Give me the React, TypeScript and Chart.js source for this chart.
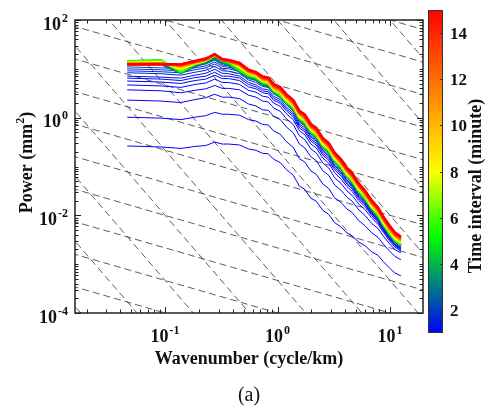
import React, { useEffect, useRef } from "react";
import { Chart, registerables } from "chart.js";

Chart.register(...registerables);

// ---------------- data ----------------
// wavenumber (cycle/km)
const WAVENUMBER = [
  0.046, 0.092, 0.138, 0.184, 0.23, 0.276, 0.322, 0.368, 0.46, 0.552, 0.644, 0.736, 0.828, 0.92,
  1.058, 1.196, 1.38, 1.564, 1.748, 1.978, 2.208, 2.53, 2.852, 3.22, 3.68, 4.14, 4.6, 5.29, 5.98,
  6.9, 7.82, 8.74, 9.89, 11.04, 12.5,
];

// log10 of power (mm^2) for each time interval (minutes)
const LOGP_15 = [1.10, 1.10, 1.09, 1.16, 1.21, 1.30, 1.20, 1.18, 1.12, 0.98, 0.93, 0.84, 0.82, 0.69, 0.62, 0.48, 0.36, 0.14, 0.06, -0.13, -0.21, -0.42, -0.52, -0.72, -0.86, -1.03, -1.14, -1.35, -1.49, -1.70, -1.84, -2.03, -2.21, -2.35, -2.44];
const LOGP_14 = [1.09, 1.09, 1.09, 1.15, 1.20, 1.30, 1.19, 1.17, 1.11, 0.97, 0.92, 0.83, 0.81, 0.67, 0.60, 0.46, 0.34, 0.12, 0.04, -0.15, -0.23, -0.44, -0.54, -0.74, -0.88, -1.05, -1.16, -1.37, -1.51, -1.72, -1.86, -2.05, -2.23, -2.37, -2.46];
const LOGP_13 = [1.09, 1.10, 1.08, 1.14, 1.19, 1.29, 1.18, 1.16, 1.10, 0.96, 0.91, 0.81, 0.79, 0.65, 0.59, 0.43, 0.33, 0.09, 0.03, -0.18, -0.24, -0.47, -0.55, -0.77, -0.89, -1.08, -1.17, -1.40, -1.52, -1.75, -1.87, -2.08, -2.24, -2.40, -2.48];
const LOGP_12 = [1.10, 1.11, 1.06, 1.13, 1.19, 1.29, 1.18, 1.15, 1.08, 0.94, 0.89, 0.79, 0.77, 0.63, 0.55, 0.43, 0.29, 0.09, -0.01, -0.18, -0.28, -0.47, -0.59, -0.77, -0.93, -1.08, -1.21, -1.40, -1.56, -1.75, -1.91, -2.08, -2.28, -2.40, -2.50];
const LOGP_10 = [1.11, 1.12, 1.03, 1.12, 1.18, 1.29, 1.18, 1.15, 1.06, 0.92, 0.87, 0.77, 0.74, 0.60, 0.52, 0.40, 0.26, 0.06, -0.04, -0.21, -0.31, -0.50, -0.62, -0.80, -0.96, -1.11, -1.24, -1.43, -1.59, -1.78, -1.94, -2.11, -2.31, -2.43, -2.53];
const LOGP_8 = [1.13, 1.14, 0.99, 1.11, 1.17, 1.28, 1.20, 1.16, 1.03, 0.90, 0.85, 0.75, 0.72, 0.58, 0.51, 0.35, 0.25, 0.01, -0.05, -0.26, -0.32, -0.55, -0.63, -0.85, -0.97, -1.16, -1.25, -1.48, -1.60, -1.83, -1.95, -2.16, -2.32, -2.48, -2.56];
const LOGP_6 = [1.15, 1.17, 0.95, 1.10, 1.16, 1.28, 1.19, 1.14, 0.99, 0.87, 0.83, 0.73, 0.70, 0.56, 0.46, 0.34, 0.20, 0.00, -0.10, -0.27, -0.37, -0.56, -0.68, -0.86, -1.02, -1.17, -1.30, -1.49, -1.65, -1.84, -2.00, -2.17, -2.37, -2.49, -2.59];
const LOGP_5 = [1.16, 1.18, 0.93, 1.09, 1.16, 1.27, 1.17, 1.12, 0.97, 0.85, 0.82, 0.72, 0.69, 0.55, 0.47, 0.31, 0.21, -0.03, -0.09, -0.30, -0.36, -0.59, -0.67, -0.89, -1.01, -1.20, -1.29, -1.52, -1.64, -1.87, -1.99, -2.20, -2.36, -2.52, -2.60];
const LOGP_4 = [1.15, 1.16, 0.92, 1.08, 1.15, 1.25, 1.15, 1.10, 0.96, 0.84, 0.80, 0.70, 0.67, 0.53, 0.44, 0.32, 0.18, -0.02, -0.12, -0.29, -0.39, -0.58, -0.70, -0.88, -1.04, -1.19, -1.32, -1.51, -1.67, -1.86, -2.02, -2.19, -2.39, -2.51, -2.61];
const LOGP_3 = [1.11, 1.12, 0.91, 1.06, 1.13, 1.23, 1.13, 1.08, 0.95, 0.82, 0.78, 0.68, 0.65, 0.52, 0.45, 0.29, 0.19, -0.05, -0.11, -0.32, -0.38, -0.61, -0.69, -0.91, -1.03, -1.22, -1.31, -1.54, -1.66, -1.89, -2.01, -2.22, -2.38, -2.54, -2.62];
const LOGP_2_5 = [1.08, 1.09, 0.91, 1.05, 1.12, 1.21, 1.12, 1.07, 0.94, 0.81, 0.77, 0.67, 0.64, 0.51, 0.42, 0.30, 0.16, -0.04, -0.14, -0.31, -0.41, -0.60, -0.72, -0.90, -1.06, -1.21, -1.34, -1.53, -1.69, -1.88, -2.04, -2.21, -2.41, -2.53, -2.63];
const LOGP_2_0 = [1.04, 1.02, 1.00, 1.06, 1.10, 1.18, 1.08, 1.06, 1.00, 0.86, 0.81, 0.72, 0.70, 0.57, 0.50, 0.35, 0.23, 0.00, -0.08, -0.28, -0.36, -0.57, -0.68, -0.88, -1.02, -1.19, -1.30, -1.51, -1.65, -1.86, -2.00, -2.19, -2.37, -2.51, -2.60];
const LOGP_1_83 = [1.00, 0.98, 0.96, 1.02, 1.06, 1.14, 1.05, 1.03, 0.98, 0.84, 0.79, 0.70, 0.68, 0.55, 0.48, 0.33, 0.21, -0.02, -0.10, -0.30, -0.38, -0.59, -0.70, -0.90, -1.04, -1.21, -1.32, -1.53, -1.67, -1.88, -2.02, -2.21, -2.39, -2.53, -2.62];
const LOGP_1_67 = [0.96, 0.94, 0.92, 0.98, 1.02, 1.10, 1.01, 1.00, 0.95, 0.81, 0.77, 0.68, 0.66, 0.53, 0.46, 0.31, 0.19, -0.04, -0.12, -0.32, -0.40, -0.61, -0.72, -0.92, -1.06, -1.23, -1.34, -1.55, -1.69, -1.90, -2.04, -2.23, -2.41, -2.55, -2.64];
const LOGP_1_5 = [0.92, 0.90, 0.87, 0.93, 0.97, 1.05, 0.96, 0.95, 0.90, 0.77, 0.72, 0.64, 0.62, 0.49, 0.42, 0.27, 0.14, -0.09, -0.17, -0.37, -0.45, -0.66, -0.77, -0.97, -1.11, -1.27, -1.38, -1.59, -1.72, -1.93, -2.07, -2.26, -2.44, -2.58, -2.67];
const LOGP_1_33 = [0.85, 0.83, 0.81, 0.87, 0.91, 0.99, 0.91, 0.90, 0.85, 0.72, 0.67, 0.59, 0.57, 0.44, 0.37, 0.22, 0.10, -0.13, -0.21, -0.40, -0.48, -0.69, -0.79, -0.99, -1.13, -1.29, -1.40, -1.61, -1.74, -1.95, -2.08, -2.27, -2.45, -2.58, -2.67];
const LOGP_1_17 = [0.81, 0.79, 0.76, 0.82, 0.85, 0.93, 0.85, 0.85, 0.81, 0.68, 0.63, 0.55, 0.53, 0.40, 0.33, 0.18, 0.06, -0.17, -0.25, -0.44, -0.52, -0.73, -0.83, -1.03, -1.16, -1.33, -1.43, -1.63, -1.76, -1.97, -2.10, -2.29, -2.46, -2.60, -2.69];
const LOGP_1_0 = [0.75, 0.73, 0.70, 0.76, 0.79, 0.87, 0.80, 0.80, 0.76, 0.63, 0.59, 0.51, 0.49, 0.36, 0.29, 0.14, 0.02, -0.21, -0.29, -0.48, -0.56, -0.77, -0.87, -1.07, -1.20, -1.36, -1.46, -1.66, -1.78, -1.98, -2.11, -2.29, -2.47, -2.60, -2.69];
const LOGP_0_83 = [0.67, 0.65, 0.62, 0.68, 0.71, 0.79, 0.72, 0.72, 0.68, 0.56, 0.52, 0.44, 0.42, 0.30, 0.23, 0.08, -0.04, -0.27, -0.35, -0.54, -0.62, -0.83, -0.93, -1.13, -1.26, -1.41, -1.51, -1.70, -1.82, -2.01, -2.14, -2.32, -2.49, -2.62, -2.71];
const LOGP_0_67 = [0.57, 0.55, 0.51, 0.56, 0.59, 0.66, 0.60, 0.60, 0.57, 0.46, 0.42, 0.34, 0.32, 0.20, 0.13, -0.02, -0.14, -0.37, -0.45, -0.64, -0.72, -0.93, -1.03, -1.23, -1.35, -1.50, -1.59, -1.77, -1.88, -2.06, -2.18, -2.35, -2.52, -2.65, -2.73];
const LOGP_0_5 = [0.36, 0.34, 0.31, 0.37, 0.41, 0.48, 0.42, 0.42, 0.39, 0.28, 0.24, 0.16, 0.15, 0.03, -0.04, -0.19, -0.31, -0.54, -0.62, -0.80, -0.88, -1.09, -1.18, -1.38, -1.49, -1.63, -1.71, -1.89, -2.00, -2.17, -2.27, -2.43, -2.58, -2.70, -2.77];
const LOGP_0_33 = [0.01, -0.01, -0.04, 0.01, 0.04, 0.11, 0.07, 0.07, 0.05, -0.04, -0.07, -0.14, -0.15, -0.27, -0.34, -0.49, -0.61, -0.84, -0.91, -1.09, -1.16, -1.36, -1.45, -1.64, -1.74, -1.87, -1.94, -2.11, -2.21, -2.36, -2.45, -2.59, -2.73, -2.84, -2.91];
const LOGP_0_17 = [-0.58, -0.60, -0.63, -0.59, -0.57, -0.50, -0.54, -0.54, -0.56, -0.64, -0.67, -0.73, -0.74, -0.85, -0.92, -1.06, -1.18, -1.40, -1.47, -1.65, -1.71, -1.90, -1.98, -2.15, -2.24, -2.36, -2.42, -2.55, -2.62, -2.75, -2.82, -2.95, -3.08, -3.18, -3.24];

// time interval (minute) of each series, top-drawn first
const TIME_INTERVALS = [15, 14, 13, 12, 10, 8, 6, 5, 4, 3, 2.5, 2, 1.83, 1.67, 1.5, 1.33, 1.17, 1, 0.83, 0.67, 0.5, 0.33, 0.17];
const SERIES_LOGP = [
  LOGP_15, LOGP_14, LOGP_13, LOGP_12, LOGP_10, LOGP_8, LOGP_6, LOGP_5, LOGP_4, LOGP_3, LOGP_2_5,
  LOGP_2_0, LOGP_1_83, LOGP_1_67, LOGP_1_5, LOGP_1_33, LOGP_1_17, LOGP_1_0, LOGP_0_83, LOGP_0_67,
  LOGP_0_5, LOGP_0_33, LOGP_0_17,
];

// dashed reference power laws: log10(P) = intercept + slope * log10(k)
const SHALLOW_SLOPE = -0.6667;
const SHALLOW_INTERCEPTS = [2.667, 2, 1.333, 0.667, 0, -0.667, -1.333, -2, -2.667, -3.333, -4, -4.667];
const STEEP_SLOPE = -2.6667;
const STEEP_INTERCEPTS = [6, 4.667, 3.333, 2, 0.667, -0.667, -2, -3.333, -4.667, -6, -7.333, -8.667];
const REF_K = [0.005, 60];

// axes
const X_MIN = 0.0158;
const X_MAX = 19.65;
const Y_MIN = 1e-4;
const Y_MAX = 100;
const X_TICKS = [0.1, 1, 10];
const X_TICK_EXP = ["-1", "0", "1"];
const Y_TICKS = [100, 1, 0.01, 0.0001];
const Y_TICK_EXP = ["2", "0", "-2", "-4"];
const CB_MIN = 1;
const CB_MAX = 15;
const CB_TICKS = [2, 4, 6, 8, 10, 12, 14];

// colormap (value -> rgb)
const CMAP_VALUES = [1, 5.2, 8, 15];
const CMAP_COLORS = [
  [0, 0, 255],
  [0, 255, 0],
  [255, 255, 0],
  [255, 0, 0],
];

function cmap(v: number): string {
  const t = Math.min(CB_MAX, Math.max(CB_MIN, v));
  for (let i = 0; i < CMAP_VALUES.length - 1; i++) {
    if (t <= CMAP_VALUES[i + 1]) {
      const f = (t - CMAP_VALUES[i]) / (CMAP_VALUES[i + 1] - CMAP_VALUES[i]);
      const a = CMAP_COLORS[i];
      const b = CMAP_COLORS[i + 1];
      const c = a.map((x, j) => Math.round(x + (b[j] - x) * f));
      return `rgb(${c[0]},${c[1]},${c[2]})`;
    }
  }
  return "rgb(255,0,0)";
}

const FONT = '"Liberation Serif", "Times New Roman", serif';

function drawPow(ctx: CanvasRenderingContext2D, exp: string, x: number, baseline: number, align: "right" | "center") {
  ctx.font = `bold 18px ${FONT}`;
  const wb = ctx.measureText("10").width;
  ctx.font = `bold 12px ${FONT}`;
  const we = ctx.measureText(exp).width;
  const total = wb + we + 1;
  const left = align === "right" ? x - total : x - total / 2;
  ctx.textAlign = "left";
  ctx.textBaseline = "alphabetic";
  ctx.font = `bold 18px ${FONT}`;
  ctx.fillText("10", left, baseline);
  ctx.font = `bold 12px ${FONT}`;
  ctx.fillText(exp, left + wb + 1, baseline - 8);
}

const decorPlugin = {
  id: "decor",
  afterDraw(chart: any) {
    const { ctx, chartArea: a, scales } = chart;
    const xs = scales.x;
    const ys = scales.y;
    ctx.save();
    // ticks
    ctx.strokeStyle = "#222";
    ctx.lineWidth = 1;
    ctx.beginPath();
    for (let d = -2; d <= 1; d++) {
      for (let m = 1; m <= 9; m++) {
        const v = m * Math.pow(10, d);
        if (v < X_MIN || v > X_MAX) continue;
        const px = Math.round(xs.getPixelForValue(v)) + 0.5;
        const len = m === 1 ? 6 : 3.5;
        ctx.moveTo(px, a.bottom);
        ctx.lineTo(px, a.bottom - len);
        ctx.moveTo(px, a.top);
        ctx.lineTo(px, a.top + len);
      }
    }
    for (let d = -4; d <= 2; d++) {
      for (let m = 1; m <= 9; m++) {
        const v = m * Math.pow(10, d);
        if (v < Y_MIN * 0.999 || v > Y_MAX * 1.001) continue;
        const py = Math.round(ys.getPixelForValue(v)) + 0.5;
        const len = m === 1 && d % 2 === 0 ? 6 : 3.5;
        ctx.moveTo(a.left, py);
        ctx.lineTo(a.left + len, py);
        ctx.moveTo(a.right, py);
        ctx.lineTo(a.right - len, py);
      }
    }
    ctx.stroke();
    // frame
    ctx.lineWidth = 1.5;
    ctx.strokeStyle = "#222";
    ctx.strokeRect(a.left, a.top, a.right - a.left, a.bottom - a.top);

    // tick labels
    ctx.fillStyle = "#111";
    X_TICKS.forEach((v, i) => drawPow(ctx, X_TICK_EXP[i], xs.getPixelForValue(v), a.bottom + 29, "center"));
    Y_TICKS.forEach((v, i) => drawPow(ctx, Y_TICK_EXP[i], a.left - 7, ys.getPixelForValue(v) + 9.5, "right"));

    // x title
    ctx.font = `bold 18px ${FONT}`;
    ctx.textAlign = "center";
    ctx.textBaseline = "alphabetic";
    ctx.fillText("Wavenumber (cycle/km)", (a.left + a.right) / 2, a.bottom + 51);

    // y title with superscript
    ctx.save();
    ctx.translate(32, (a.top + a.bottom) / 2 - 4);
    ctx.rotate(-Math.PI / 2);
    ctx.font = `bold 18px ${FONT}`;
    const w1 = ctx.measureText("Power (mm").width;
    const w3 = ctx.measureText(")").width;
    ctx.font = `bold 12px ${FONT}`;
    const w2 = ctx.measureText("2").width;
    const start = -(w1 + w2 + w3) / 2;
    ctx.textAlign = "left";
    ctx.font = `bold 18px ${FONT}`;
    ctx.fillText("Power (mm", start, 0);
    ctx.font = `bold 12px ${FONT}`;
    ctx.fillText("2", start + w1, -8);
    ctx.font = `bold 18px ${FONT}`;
    ctx.fillText(")", start + w1 + w2, 0);
    ctx.restore();

    // caption
    ctx.font = `20px ${FONT}`;
    ctx.textAlign = "center";
    ctx.fillText("(a)", (a.left + a.right) / 2, 401);

    // colorbar
    const cbL = a.right + 5;
    const cbR = a.right + 20;
    const cbT = a.top - 10;
    const cbB = a.bottom + 20;
    const grad = ctx.createLinearGradient(0, cbB, 0, cbT);
    CMAP_VALUES.forEach((v, i) => {
      const c = CMAP_COLORS[i];
      grad.addColorStop((v - CB_MIN) / (CB_MAX - CB_MIN), `rgb(${c[0]},${c[1]},${c[2]})`);
    });
    ctx.fillStyle = grad;
    ctx.fillRect(cbL, cbT, cbR - cbL, cbB - cbT);
    ctx.strokeStyle = "#333";
    ctx.lineWidth = 1;
    ctx.strokeRect(cbL + 0.5, cbT + 0.5, cbR - cbL - 1, cbB - cbT - 1);
    ctx.fillStyle = "#111";
    ctx.font = `bold 17px ${FONT}`;
    ctx.textAlign = "left";
    ctx.textBaseline = "middle";
    ctx.beginPath();
    CB_TICKS.forEach((v) => {
      const py = Math.round(cbB - ((v - CB_MIN) / (CB_MAX - CB_MIN)) * (cbB - cbT)) + 0.5;
      ctx.moveTo(cbR - 3, py);
      ctx.lineTo(cbR, py);
      ctx.fillText(String(v), cbR + 7, py + 1);
    });
    ctx.stroke();

    // colorbar title
    ctx.save();
    ctx.translate(481, 186);
    ctx.rotate(-Math.PI / 2);
    ctx.font = `bold 18px ${FONT}`;
    ctx.textAlign = "center";
    ctx.textBaseline = "alphabetic";
    ctx.fillText("Time interval (minute)", 0, 0);
    ctx.restore();

    ctx.restore();
  },
};

export default function App() {
  const ref = useRef<HTMLCanvasElement>(null);
  useEffect(() => {
    const canvas = ref.current;
    if (!canvas) return;
    const datasets: any[] = [];
    TIME_INTERVALS.forEach((tau, s) => {
      const logp = SERIES_LOGP[s];
      datasets.push({
        data: WAVENUMBER.map((k, i) => ({ x: k, y: Math.pow(10, logp[i]) })),
        borderColor: cmap(tau),
        borderWidth: tau >= 12.5 ? 2.6 : tau > 2.2 ? 2 : 1,
        pointRadius: 0,
        showLine: true,
        tension: 0,
        fill: false,
      });
    });
    const refLine = (c: number, slope: number) => ({
      data: REF_K.map((k) => ({ x: k, y: Math.pow(10, c + slope * Math.log10(k)) })),
      borderColor: "rgba(55,55,55,0.9)",
      borderWidth: 0.9,
      borderDash: [7, 4],
      pointRadius: 0,
      showLine: true,
      tension: 0,
      fill: false,
    });
    SHALLOW_INTERCEPTS.forEach((c) => datasets.push(refLine(c, SHALLOW_SLOPE)));
    STEEP_INTERCEPTS.forEach((c) => datasets.push(refLine(c, STEEP_SLOPE)));

    const chart = new Chart(canvas, {
      type: "scatter",
      data: { datasets },
      options: {
        responsive: false,
        animation: false,
        devicePixelRatio: 1,
        events: [],
        layout: { padding: { left: 75, right: 67, top: 20, bottom: 96 } },
        plugins: { legend: { display: false }, tooltip: { enabled: false } },
        scales: {
          x: { type: "logarithmic", min: X_MIN, max: X_MAX, display: false },
          y: { type: "logarithmic", min: Y_MIN, max: Y_MAX, display: false },
        },
      },
      plugins: [decorPlugin],
    } as any);
    return () => chart.destroy();
  }, []);
  return (
    <div style={{ position: "absolute", left: 0, top: 0, width: 490, height: 409, background: "#fff" }}>
      <canvas ref={ref} width={490} height={409} style={{ display: "block", width: 490, height: 409 }} />
    </div>
  );
}
